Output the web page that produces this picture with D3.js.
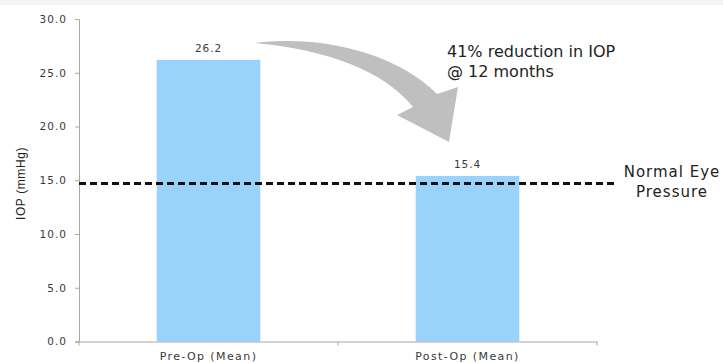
<!DOCTYPE html>
<html>
<head>
<meta charset="utf-8">
<script src="https://cdn.jsdelivr.net/npm/d3@7"></script>
<style>
  body { margin: 0; background: #fff; }
  svg { display: block; }
</style>
</head>
<body>
<div id="chart"></div>
<script>
// data
const categories = ["Pre-Op (Mean)", "Post-Op (Mean)"];
const iopValues = [26.2, 15.4];
const normalPressure = 14.7;
const yTicks = [0, 5, 10, 15, 20, 25, 30];

const width = 723, height = 363;
const svg = d3.select("#chart").append("svg")
  .attr("width", width)
  .attr("height", height);

// faint band along the top
svg.append("rect").attr("x", 0).attr("y", 0).attr("width", width).attr("height", 5)
  .attr("fill", "#f3f5f7");

const x = d3.scaleBand().domain(categories).range([79, 597])
  .paddingInner(0.6).paddingOuter(0.3);
const y = d3.scaleLinear().domain([0, 30]).range([341.5, 19]);

const textFont = "DejaVu Sans, Verdana, sans-serif";

// bars
svg.selectAll(".bar").data(iopValues).enter().append("rect")
  .attr("x", (d, i) => x(categories[i]))
  .attr("y", d => y(d))
  .attr("width", x.bandwidth())
  .attr("height", d => y(0) - y(d))
  .attr("fill", "#99d2fb");

// value labels
svg.selectAll(".val").data(iopValues).enter().append("text")
  .attr("x", (d, i) => x(categories[i]) + x.bandwidth() / 2)
  .attr("y", d => y(d) - 8)
  .attr("text-anchor", "middle")
  .attr("font-family", textFont)
  .attr("font-size", 10.5)
  .attr("letter-spacing", 0.9)
  .attr("fill", "#3a3a3a")
  .text(d => d.toFixed(1));

// y axis
const yAxis = svg.append("g").attr("transform", "translate(79,0)")
  .call(d3.axisLeft(y).tickValues(yTicks).tickSize(4).tickPadding(8).tickFormat(d3.format(".1f")));
yAxis.select(".domain").attr("stroke", "#a8a8a8");
yAxis.selectAll(".tick line").attr("stroke", "#a8a8a8");
yAxis.selectAll(".tick text")
  .attr("font-family", textFont)
  .attr("font-size", 10.5)
  .attr("letter-spacing", 1)
  .attr("fill", "#3a3a3a");

// x axis
const xAxis = svg.append("g").attr("transform", `translate(0,${y(0)})`)
  .call(d3.axisBottom(x).tickSize(0).tickPadding(11));
xAxis.select(".domain").attr("stroke", "#a8a8a8");
xAxis.selectAll(".tick text")
  .attr("font-family", textFont)
  .attr("font-size", 11)
  .attr("letter-spacing", 1.4)
  .attr("fill", "#3a3a3a");
// category boundary ticks
svg.selectAll(".xsep").data([x.range()[0], (x.range()[0] + x.range()[1]) / 2, x.range()[1]])
  .enter().append("line")
  .attr("x1", d => d).attr("x2", d => d)
  .attr("y1", y(0)).attr("y2", y(0) + 4)
  .attr("stroke", "#a8a8a8");

// y label
svg.append("text")
  .attr("transform", `translate(25,${y(14.7)}) rotate(-90)`)
  .attr("text-anchor", "middle")
  .attr("font-family", "Liberation Sans, Arial, sans-serif")
  .attr("font-size", 12)
  .attr("letter-spacing", 0.6)
  .attr("fill", "#222")
  .text("IOP (mmHg)");

// normal pressure dashed line
svg.append("line")
  .attr("x1", 79).attr("x2", 618)
  .attr("y1", y(normalPressure)).attr("y2", y(normalPressure))
  .attr("stroke", "#111")
  .attr("stroke-width", 3)
  .attr("stroke-dasharray", "7,4");

svg.append("text")
  .attr("x", 672).attr("y", y(normalPressure) - 6)
  .attr("text-anchor", "middle")
  .attr("font-family", textFont)
  .attr("font-size", 15)
  .attr("letter-spacing", 1)
  .attr("fill", "#222")
  .selectAll("tspan").data(["Normal Eye", "Pressure"]).enter().append("tspan")
  .attr("x", 672)
  .attr("dy", (d, i) => i === 0 ? 0 : 20)
  .text(d => d);

// curved arrow
svg.append("path")
  .attr("d", "M255,43 C320,35 395,52 437,94 L458,87 L449,142 L397,115 L413,107 C385,72 330,50 255,43 Z")
  .attr("fill", "#bfbfbf");

// annotation
svg.append("text")
  .attr("x", 447).attr("y", 57)
  .attr("font-family", textFont)
  .attr("font-size", 16)
  .attr("fill", "#222")
  .selectAll("tspan").data(["41% reduction in IOP", "@ 12 months"]).enter().append("tspan")
  .attr("x", 447)
  .attr("dy", (d, i) => i === 0 ? 0 : 20)
  .text(d => d);
</script>
</body>
</html>
